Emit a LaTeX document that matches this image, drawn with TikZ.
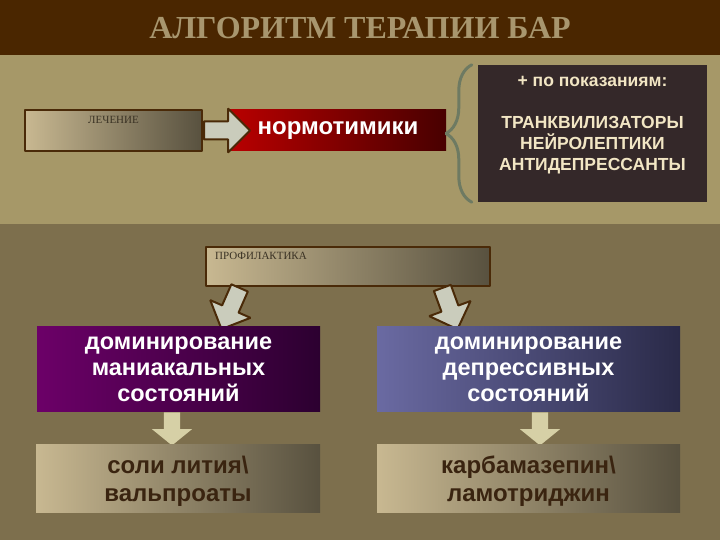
\documentclass[tikz,border=0pt]{standalone}
\usepackage{fontspec}
\setmainfont{Liberation Serif}
\setsansfont{Liberation Sans}
\usetikzlibrary{shapes.arrows,decorations.pathreplacing}
\definecolor{titlebg}{HTML}{4A2600}
\definecolor{titletext}{HTML}{A8966E}
\definecolor{upperbg}{HTML}{A69868}
\definecolor{lowerbg}{HTML}{7D6F4D}
\definecolor{boxedge}{HTML}{4A2A08}
\definecolor{tanlight}{HTML}{C8B891}
\definecolor{tandark}{HTML}{58513F}
\definecolor{redlight}{HTML}{B80000}
\definecolor{reddark}{HTML}{480000}
\definecolor{darkbox}{HTML}{342829}
\definecolor{creamtext}{HTML}{F2E6C4}
\definecolor{bracegreen}{HTML}{6E7A62}
\definecolor{arrowfill}{HTML}{CACCBC}
\definecolor{smallarrow}{HTML}{D6D0A6}
\definecolor{purplelight}{HTML}{6C0068}
\definecolor{purpledark}{HTML}{2C0030}
\definecolor{bluelight}{HTML}{6A6AA2}
\definecolor{bluedark}{HTML}{2A2A48}
\definecolor{browntext}{HTML}{3A2410}
\definecolor{labeltext}{HTML}{3A3224}
\begin{document}
\begin{tikzpicture}[>=latex,line join=bevel,
  gradbox/.style={draw=boxedge,line width=2bp,left color=tanlight,right color=tandark},
  plainbox/.style={left color=tanlight,right color=tandark},
  smalllabel/.style={text=labeltext,font=\fontsize{11bp}{12bp}\selectfont,inner sep=0pt},
  bigtext/.style={text=white,align=center,font=\sffamily\bfseries\fontsize{23.5bp}{26bp}\selectfont},
  fatarrow/.style={single arrow,draw=boxedge,line width=2bp,fill=arrowfill,anchor=tail,
    single arrow head extend=13bp,minimum width=42bp,inner sep=0pt,inner ysep=8bp},
  downarrow/.style={single arrow,fill=smallarrow,anchor=tail,single arrow tip angle=102,
    single arrow head extend=12bp,minimum width=40bp,inner sep=0pt,inner ysep=8bp,minimum height=33bp},
  ]
%%
\useasboundingbox (0bp,0bp) rectangle (720bp,540bp);
\fill[lowerbg] (0bp,0bp) rectangle (720bp,316bp);
\fill[upperbg] (0bp,316bp) rectangle (720bp,485bp);
\fill[titlebg] (0bp,485bp) rectangle (720bp,540bp);
\node (node_title) at (360bp,512bp) [text=titletext,font=\bfseries\fontsize{32bp}{34bp}\selectfont] {АЛГОРИТМ ТЕРАПИИ БАР};
%
\node (node_0) at (113.5bp,409.5bp) [gradbox,minimum width=177bp,minimum height=41bp] {};
  \node (node_0l) at (113.5bp,420bp) [smalllabel] {ЛЕЧЕНИЕ};
  \node (node_1) at (338bp,409.5bp) [left color=redlight,right color=reddark,minimum width=216bp,minimum height=41bp,
    text=white,font=\sffamily\bfseries\fontsize{24bp}{26bp}\selectfont] {нормотимики};
  \node (arrow_0) at (node_0.east) [fatarrow,minimum height=46bp] {};
  \node (node_2) at (592.5bp,406.5bp) [fill=darkbox,minimum width=229bp,minimum height=137bp] {};
  \node (node_2t) at (592.5bp,415bp) [text=creamtext,align=center,font=\sffamily\bfseries\fontsize{17.5bp}{21bp}\selectfont]
    {+ по показаниям:\\[21bp]ТРАНКВИЛИЗАТОРЫ\\НЕЙРОЛЕПТИКИ\\АНТИДЕПРЕССАНТЫ};
  \draw [bracegreen,line width=3bp,line cap=round,decorate,decoration={brace,amplitude=26bp}]
    ([xshift=-6bp]node_2.south west) -- ([xshift=-6bp]node_2.north west);
%
\node (node_3) at (348bp,273.5bp) [gradbox,minimum width=284bp,minimum height=39bp] {};
  \node (node_3l) at (215bp,284bp) [smalllabel,anchor=west] {ПРОФИЛАКТИКА};
  \node (arrow_1) at ([xshift=35bp]node_3.south west) [fatarrow,rotate=-113.7,minimum height=45bp] {};
  \node (arrow_2) at ([xshift=-49bp]node_3.south east) [fatarrow,rotate=-69.9,minimum height=44bp] {};
  \node (node_4) at (178.5bp,170.5bp) [bigtext,left color=purplelight,right color=purpledark,minimum width=283bp,minimum height=85bp]
    {доминирование\\маниакальных\\состояний};
  \node (node_5) at (528.5bp,170.5bp) [bigtext,left color=bluelight,right color=bluedark,minimum width=303bp,minimum height=85bp]
    {доминирование\\депрессивных\\состояний};
  \node (arrow_3) at ([xshift=-6.5bp]node_4.south) [downarrow,rotate=-90] {};
  \node (arrow_4) at ([xshift=11.5bp]node_5.south) [downarrow,rotate=-90] {};
  \node (node_6) at (178bp,61bp) [plainbox,minimum width=284bp,minimum height=68bp,text depth=0bp,
    bigtext,text=browntext,font=\sffamily\bfseries\fontsize{24bp}{28bp}\selectfont] {соли лития\textbackslash\\вальпроаты};
  \node (node_7) at (528.5bp,61bp) [plainbox,minimum width=303bp,minimum height=68bp,text depth=0bp,
    bigtext,text=browntext,font=\sffamily\bfseries\fontsize{24bp}{28bp}\selectfont] {карбамазепин\textbackslash\\ламотриджин};
%
\end{tikzpicture}
\end{document}
